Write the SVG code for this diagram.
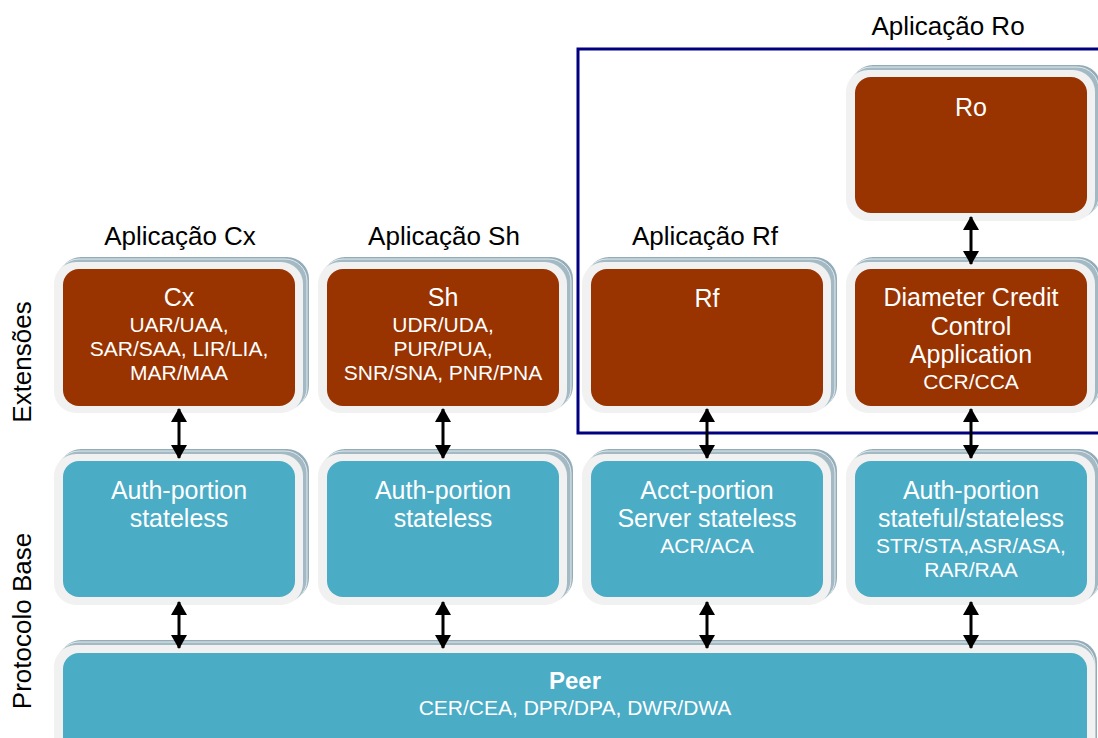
<svg xmlns="http://www.w3.org/2000/svg" width="1098" height="738" viewBox="0 0 1098 738">
  <style>
    text { font-family: "Liberation Sans", Arial, sans-serif; text-anchor: middle; }
    .lbl { font-size: 26px; fill: #000; }
    .t { font-size: 25px; fill: #fff; }
    .s { font-size: 21px; fill: #fff; }
    .b { font-size: 24px; font-weight: bold; fill: #fff; }
    .sh1 { fill: #93acb7; }
    .sh2 { fill: #a3bac4; stroke: #e4ecef; stroke-width: 1; }
    .frame { fill: #f1f1f1; }
    .ext { fill: #993300; }
    .base { fill: #4bacc6; }
    .link { stroke: #000; stroke-width: 3; fill: none; marker-start: url(#head); marker-end: url(#head); }
  </style>
  <defs>
    <marker id="head" viewBox="0 0 14 16" refX="13" refY="8" markerUnits="userSpaceOnUse" markerWidth="14" markerHeight="16" orient="auto-start-reverse">
      <path d="M0,0 L14,8 L0,16 Z" fill="#000"/>
    </marker>
    <!-- stacked card look: two offset shadow plates, a light frame, coloured face -->
    <g id="card">
      <rect class="sh1" x="-4" y="-12" width="250" height="151" rx="22"/>
      <rect class="sh2" x="-6" y="-10" width="250" height="151" rx="22"/>
      <rect class="frame" x="-9" y="-7" width="249" height="151" rx="22"/>
    </g>
  </defs>

  <rect width="1098" height="738" fill="#fff"/>

  <!-- side captions -->
  <text class="lbl" transform="translate(31,362) rotate(-90)">Extensões</text>
  <text class="lbl" transform="translate(31,621) rotate(-90)">Protocolo Base</text>

  <!-- application captions -->
  <text class="lbl" x="180" y="245">Aplicação Cx</text>
  <text class="lbl" x="444" y="245">Aplicação Sh</text>
  <text class="lbl" x="705" y="245">Aplicação Rf</text>
  <text class="lbl" x="948" y="35">Aplicação Ro</text>

  <!-- Ro application boundary -->
  <path d="M1100,49 H578 V433 H1100" fill="none" stroke="#000080" stroke-width="3"/>

  <!-- extension layer -->
  <g id="node-ro">
    <use href="#card" x="855" y="77"/>
    <rect class="ext" x="855" y="77" width="232" height="136" rx="16"/>
    <text class="t" x="971" y="116">Ro</text>
  </g>
  <g id="node-cx">
    <use href="#card" x="63" y="269"/>
    <rect class="ext" x="63" y="269" width="232" height="137" rx="16"/>
    <text class="t" x="179" y="306">Cx</text>
    <text class="s" x="179" y="332">UAR/UAA,</text>
    <text class="s" x="179" y="356">SAR/SAA, LIR/LIA,</text>
    <text class="s" x="179" y="380">MAR/MAA</text>
  </g>
  <g id="node-sh">
    <use href="#card" x="327" y="269"/>
    <rect class="ext" x="327" y="269" width="232" height="137" rx="16"/>
    <text class="t" x="443" y="306">Sh</text>
    <text class="s" x="443" y="332">UDR/UDA,</text>
    <text class="s" x="443" y="356">PUR/PUA,</text>
    <text class="s" x="443" y="380">SNR/SNA, PNR/PNA</text>
  </g>
  <g id="node-rf">
    <use href="#card" x="591" y="269"/>
    <rect class="ext" x="591" y="269" width="232" height="137" rx="16"/>
    <text class="t" x="707" y="307">Rf</text>
  </g>
  <g id="node-dcca">
    <use href="#card" x="855" y="269"/>
    <rect class="ext" x="855" y="269" width="232" height="137" rx="16"/>
    <text class="t" x="971" y="306">Diameter Credit</text>
    <text class="t" x="971" y="335">Control</text>
    <text class="t" x="971" y="363">Application</text>
    <text class="s" x="971" y="389">CCR/CCA</text>
  </g>

  <!-- base protocol layer -->
  <g id="node-auth-cx">
    <use href="#card" x="63" y="461"/>
    <rect class="base" x="63" y="461" width="232" height="136" rx="16"/>
    <text class="t" x="179" y="499">Auth-portion</text>
    <text class="t" x="179" y="527">stateless</text>
  </g>
  <g id="node-auth-sh">
    <use href="#card" x="327" y="461"/>
    <rect class="base" x="327" y="461" width="232" height="136" rx="16"/>
    <text class="t" x="443" y="499">Auth-portion</text>
    <text class="t" x="443" y="527">stateless</text>
  </g>
  <g id="node-acct">
    <use href="#card" x="591" y="461"/>
    <rect class="base" x="591" y="461" width="232" height="136" rx="16"/>
    <text class="t" x="707" y="499">Acct-portion</text>
    <text class="t" x="707" y="527">Server stateless</text>
    <text class="s" x="707" y="553">ACR/ACA</text>
  </g>
  <g id="node-auth-ro">
    <use href="#card" x="855" y="461"/>
    <rect class="base" x="855" y="461" width="232" height="136" rx="16"/>
    <text class="t" x="971" y="499">Auth-portion</text>
    <text class="t" x="971" y="527">stateful/stateless</text>
    <text class="s" x="971" y="553">STR/STA,ASR/ASA,</text>
    <text class="s" x="971" y="577">RAR/RAA</text>
  </g>

  <g id="node-peer">
    <rect class="sh1" x="59" y="640" width="1038" height="120" rx="22"/>
    <rect class="sh2" x="57" y="642" width="1038" height="120" rx="22"/>
    <rect class="frame" x="54" y="645" width="1041" height="120" rx="22"/>
    <rect class="base" x="63" y="653" width="1024" height="110" rx="16"/>
    <text class="b" x="575" y="689">Peer</text>
    <text class="s" x="575" y="715">CER/CEA, DPR/DPA, DWR/DWA</text>
  </g>

  <!-- connectors -->
  <g id="connectors">
    <line class="link" x1="971" y1="217" x2="971" y2="264"/>
    <line class="link" x1="179" y1="409" x2="179" y2="458"/>
    <line class="link" x1="443" y1="409" x2="443" y2="458"/>
    <line class="link" x1="707" y1="409" x2="707" y2="458"/>
    <line class="link" x1="971" y1="409" x2="971" y2="458"/>
    <line class="link" x1="179" y1="602" x2="179" y2="648"/>
    <line class="link" x1="443" y1="602" x2="443" y2="648"/>
    <line class="link" x1="707" y1="602" x2="707" y2="648"/>
    <line class="link" x1="971" y1="602" x2="971" y2="648"/>
  </g>
</svg>
